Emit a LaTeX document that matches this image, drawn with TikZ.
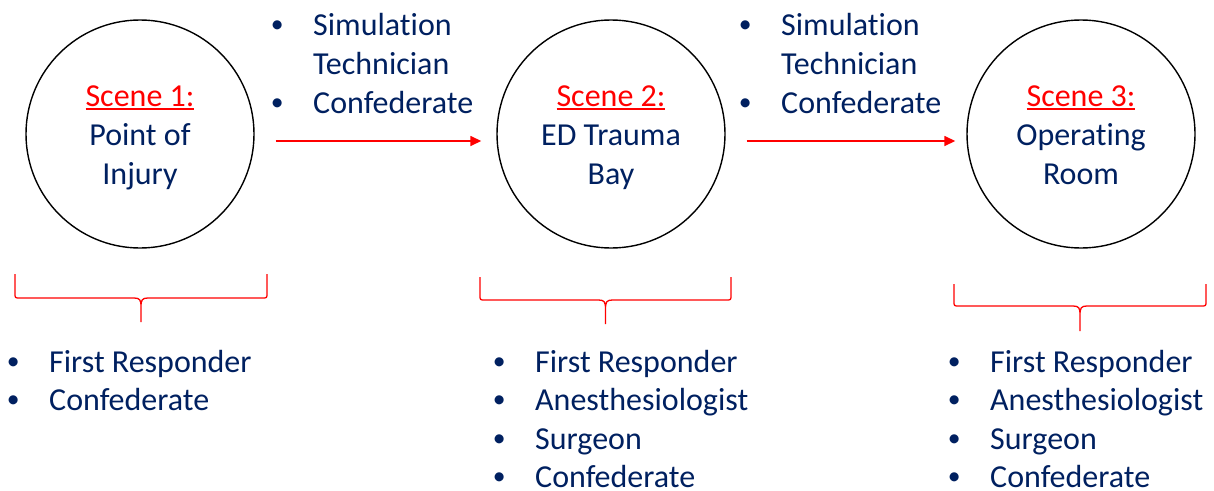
\documentclass[tikz,border=0pt]{standalone}
\usepackage{fontspec}
\setmainfont{Carlito}[Ligatures=CommonOff]
\usetikzlibrary{arrows.meta}
\definecolor{navy}{HTML}{002060}
\definecolor{redc}{HTML}{FF0000}
\newcommand\redul[1]{\textcolor{redc}{\setbox0\hbox{#1}\rlap{\raisebox{-3.6pt}{\rule{\wd0}{1.8pt}}}\box0}}
\newcommand\topstrut{\rule{0pt}{36pt}}
\newcommand\botstrut{\rule[-14pt]{0pt}{14pt}}
\newcommand\mybullet{\raisebox{2.4pt}{\scalebox{0.8}{\textbullet}}}
\newcommand\itemline[4]{\node[listtext] (#1) at (#2,#3) {\hbox to 72pt{\hss\mybullet\hss}#4};}
\newcommand\curlybrace[5]{% x1 x2 ytop yh ytip
  \pgfmathsetmacro\cx{(#1+#2)/2}
  \draw[bracestyle] (#1,#3) -- (#1,#4-5) .. controls (#1,#4) .. (#1+5,#4)
    -- (\cx-7,#4) .. controls (\cx-1,#4) and (\cx,#4+2) .. (\cx,#4+9) -- (\cx,#5)
    (\cx,#4+9) .. controls (\cx,#4+2) and (\cx+1,#4) .. (\cx+7,#4)
    -- (#2-5,#4) .. controls (#2,#4) .. (#2,#4-5) -- (#2,#3);}
\begin{document}
\begin{tikzpicture}[x=1pt,y=-1pt,
  scene/.style={circle,draw=black,line width=1.4pt,minimum size=228pt,inner sep=0pt,
    align=center,text=navy,font=\fontsize{32}{39}\selectfont},
  listtext/.style={anchor=base west,inner sep=0pt,text=navy,font=\fontsize{32}{39}\selectfont},
  flow/.style={draw=redc,line width=1.5pt,-{Triangle[length=11pt,width=10pt]}},
  bracestyle/.style={draw=redc,line width=1.3pt}]
\useasboundingbox (0,0) rectangle (1214,490);
\node[scene] (c1) at (140,134) {\topstrut\redul{Scene 1:}\\Point of\\Injury\botstrut};
\node[scene] (c2) at (611,134) {\topstrut\redul{Scene 2:}\\ED Trauma\\Bay\botstrut};
\node[scene] (c3) at (1081,134) {\topstrut\redul{Scene 3:}\\Operating\\Room\botstrut};
\draw[flow] ([shift={(21pt,-7pt)}]c1.east) -- ([shift={(-15pt,-7pt)}]c2.west);
\draw[flow] ([shift={(21pt,-7pt)}]c2.east) -- ([shift={(-11pt,-7pt)}]c3.west);
% top lists
\itemline{ta1}{241}{35}{Simulation}
\node[listtext] (ta2) at (313,74) {Technician};
\itemline{ta3}{241}{113}{Confederate}
\itemline{tb1}{709}{35}{Simulation}
\node[listtext] (tb2) at (781,74) {Technician};
\itemline{tb3}{709}{113}{Confederate}
% braces
\curlybrace{15}{267}{274}{298}{322}
\curlybrace{480}{731}{277}{300}{324}
\curlybrace{954}{1206}{284}{306}{331}
% bottom lists
\itemline{la1}{-23}{372}{First Responder}
\itemline{la2}{-23}{410}{Confederate}
\itemline{lb1}{463}{372}{First Responder}
\itemline{lb2}{463}{410}{Anesthesiologist}
\itemline{lb3}{463}{449}{Surgeon}
\itemline{lb4}{463}{487}{Confederate}
\itemline{lc1}{918}{372}{First Responder}
\itemline{lc2}{918}{410}{Anesthesiologist}
\itemline{lc3}{918}{449}{Surgeon}
\itemline{lc4}{918}{487}{Confederate}
\end{tikzpicture}
\end{document}
